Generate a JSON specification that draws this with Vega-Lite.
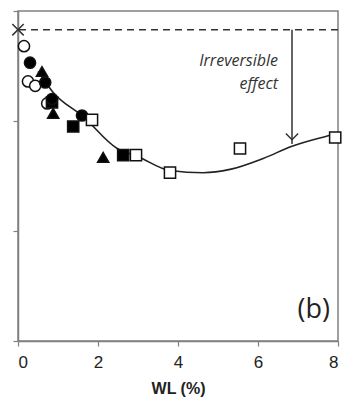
{
  "$schema": "https://vega.github.io/schema/vega-lite/v6.json",
  "width": 320,
  "height": 330,
  "autosize": {"type": "none"},
  "padding": {"left": 18, "top": 11, "right": 4, "bottom": 58},
  "background": "white",
  "config": {
    "view": {"stroke": "#808080", "strokeWidth": 1.5},
    "axis": {"grid": false, "domainColor": "#808080", "domainWidth": 1.5, "tickColor": "#808080", "tickWidth": 1.2, "tickSize": 5}
  },
  "datasets": {
    "pts": [
      {"wl": 0.15, "v": 2.68, "s": "oc"},
      {"wl": 0.25, "v": 2.36, "s": "oc"},
      {"wl": 0.43, "v": 2.32, "s": "oc"},
      {"wl": 0.73, "v": 2.16, "s": "oc"},
      {"wl": 0.85, "v": 2.17, "s": "fs"},
      {"wl": 1.38, "v": 1.95, "s": "fs"},
      {"wl": 2.63, "v": 1.69, "s": "fs"},
      {"wl": 0.6, "v": 2.45, "s": "ft"},
      {"wl": 0.88, "v": 2.07, "s": "ft"},
      {"wl": 2.13, "v": 1.67, "s": "ft"},
      {"wl": 0.3, "v": 2.53, "s": "fc"},
      {"wl": 0.68, "v": 2.35, "s": "fc"},
      {"wl": 0.85, "v": 2.2, "s": "fc"},
      {"wl": 1.6, "v": 2.05, "s": "fc"},
      {"wl": 1.85, "v": 2.01, "s": "os"},
      {"wl": 2.95, "v": 1.69, "s": "os"},
      {"wl": 3.8, "v": 1.53, "s": "os"},
      {"wl": 5.55, "v": 1.75, "s": "os"},
      {"wl": 7.93, "v": 1.85, "s": "os"}
    ],
    "curve": [
      {"wl": 0.5, "v": 2.45},
      {"wl": 0.88, "v": 2.26},
      {"wl": 1.63, "v": 2.04},
      {"wl": 2.48, "v": 1.75},
      {"wl": 2.98, "v": 1.68},
      {"wl": 3.8, "v": 1.55},
      {"wl": 4.63, "v": 1.53},
      {"wl": 5.3, "v": 1.56},
      {"wl": 6.13, "v": 1.66},
      {"wl": 6.85, "v": 1.77},
      {"wl": 7.8, "v": 1.87},
      {"wl": 8.0, "v": 1.89}
    ]
  },
  "layer": [
    {
      "data": {"values": [{"v": 2.83}]},
      "mark": {"type": "rule", "color": "#333", "strokeWidth": 1.5, "strokeDash": [7, 5]},
      "encoding": {"y": {"field": "v", "type": "quantitative"}}
    },
    {
      "data": {"name": "curve"},
      "mark": {"type": "line", "color": "#222", "strokeWidth": 1.6, "interpolate": "monotone"},
      "encoding": {
        "x": {"field": "wl", "type": "quantitative", "scale": {"domain": [0, 8], "nice": false},
          "axis": {"values": [0, 2, 4, 6, 8], "title": "WL (%)", "labelFont": "Liberation Sans", "labelFontSize": 17, "labelColor": "#222", "labelPadding": 8, "titleFont": "Liberation Sans", "titleFontSize": 16, "titleFontWeight": "bold", "titleColor": "#222", "titlePadding": 10}},
        "y": {"field": "v", "type": "quantitative", "scale": {"domain": [0, 3], "nice": false},
          "axis": {"values": [0, 1, 2, 3], "labels": false, "title": null}}
      }
    },
    {
      "data": {"values": [{"wl": 6.85, "v": 2.83, "v2": 1.79}]},
      "mark": {"type": "rule", "color": "#333", "strokeWidth": 1.5},
      "encoding": {
        "x": {"field": "wl", "type": "quantitative"},
        "y": {"field": "v", "type": "quantitative"},
        "y2": {"field": "v2"}
      }
    },
    {
      "data": {"values": [{"wl": 6.85, "v": 1.83}]},
      "mark": {"type": "point", "shape": "M-1,-1L0,0L1,-1", "size": 150, "filled": false, "stroke": "#333", "strokeWidth": 1.5, "opacity": 1},
      "encoding": {
        "x": {"field": "wl", "type": "quantitative"},
        "y": {"field": "v", "type": "quantitative"}
      }
    },
    {
      "data": {"name": "pts"},
      "mark": {"type": "point", "filled": true, "size": 125, "stroke": "#111", "strokeWidth": 1.5, "opacity": 1},
      "encoding": {
        "x": {"field": "wl", "type": "quantitative"},
        "y": {"field": "v", "type": "quantitative"},
        "shape": {"field": "s", "type": "nominal", "legend": null,
          "scale": {"domain": ["oc", "fc", "ft", "fs", "os"], "range": ["circle", "circle", "triangle-up", "square", "square"]}},
        "fill": {"field": "s", "type": "nominal", "legend": null,
          "scale": {"domain": ["oc", "fc", "ft", "fs", "os"], "range": ["white", "black", "black", "black", "white"]}}
      }
    },
    {
      "data": {"values": [{"wl": 0, "v": 2.83}]},
      "mark": {"type": "point", "shape": "M-1,-1L1,1M-1,1L1,-1", "size": 130, "filled": false, "stroke": "#333", "strokeWidth": 1.5, "opacity": 1, "clip": false},
      "encoding": {
        "x": {"field": "wl", "type": "quantitative"},
        "y": {"field": "v", "type": "quantitative"}
      }
    },
    {
      "data": {"values": [{"wl": 6.5, "v": 2.545, "t": "Irreversible"}, {"wl": 6.5, "v": 2.336, "t": "effect"}]},
      "mark": {"type": "text", "align": "right", "baseline": "middle", "font": "Open Sans", "fontStyle": "italic", "fontSize": 16, "color": "#333"},
      "encoding": {
        "x": {"field": "wl", "type": "quantitative"},
        "y": {"field": "v", "type": "quantitative"},
        "text": {"field": "t"}
      }
    },
    {
      "data": {"values": [{"wl": 7.8, "v": 0.21, "t": "(b)"}]},
      "mark": {"type": "text", "align": "right", "baseline": "alphabetic", "font": "Open Sans", "fontSize": 27, "color": "#222"},
      "encoding": {
        "x": {"field": "wl", "type": "quantitative"},
        "y": {"field": "v", "type": "quantitative"},
        "text": {"field": "t"}
      }
    }
  ]
}
